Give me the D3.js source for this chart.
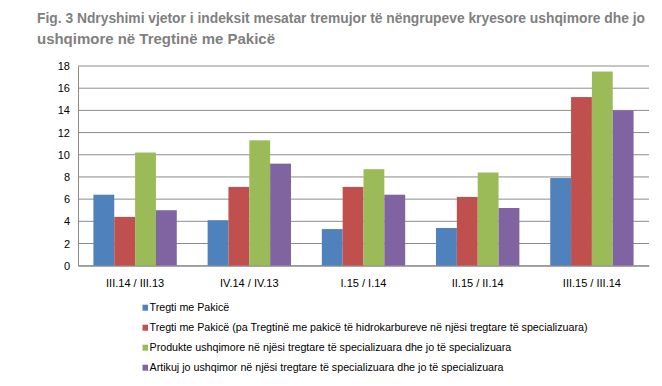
<!DOCTYPE html>
<html>
<head>
<meta charset="utf-8">
<script src="https://cdn.jsdelivr.net/npm/d3@7"></script>
<style>
  body { margin: 0; background: #fff; }
  svg { font-family: "Liberation Sans", Arial, sans-serif; }
</style>
</head>
<body>
<div id="chart"></div>
<script>
// te dhenat
var categories = ["III.14 / III.13", "IV.14 / IV.13", "I.15 / I.14", "II.15 / II.14", "III.15 / III.14"];
var seriesNames = [
    "Tregti me Pakicë",
    "Tregti me Pakicë (pa Tregtinë me pakicë të hidrokarbureve në njësi tregtare të specializuara)",
    "Produkte ushqimore në njësi tregtare të specializuara dhe jo të specializuara",
    "Artikuj jo ushqimor në njësi tregtare të specializuara dhe jo të specializuara"
];
var tregti = [6.4, 4.1, 3.3, 3.4, 7.9];
var tregtiPaHidro = [4.4, 7.1, 7.1, 6.2, 15.2];
var ushqimore = [10.2, 11.3, 8.7, 8.4, 17.5];
var joUshqimore = [5.0, 9.2, 6.4, 5.2, 14.0];
var yTicks = [0, 2, 4, 6, 8, 10, 12, 14, 16, 18];

var colors = ["#4F81BD", "#C0504D", "#9BBB59", "#8064A2"];
var allSeries = [tregti, tregtiPaHidro, ushqimore, joUshqimore];

var width = 662, height = 386;
var margin = {top: 66, right: 13, bottom: 120, left: 78};
var innerW = width - margin.left - margin.right,
    innerH = 265.7 - margin.top;

var svg = d3.select("#chart")
    .append("svg")
        .attr("width", width)
        .attr("height", height);

// titulli
var title = svg.append("g").attr("fill", "#808080").attr("font-weight", "bold").attr("font-size", 14);
title.append("text")
    .attr("x", 37).attr("y", 23)
    .attr("textLength", 608).attr("lengthAdjust", "spacingAndGlyphs")
    .text("Fig. 3  Ndryshimi  vjetor i indeksit  mesatar  tremujor  të nëngrupeve kryesore ushqimore dhe jo");
title.append("text")
    .attr("x", 37).attr("y", 44)
    .attr("textLength", 238).attr("lengthAdjust", "spacingAndGlyphs")
    .text("ushqimore në Tregtinë me Pakicë");

var g = svg.append("g")
    .attr("transform", `translate(${margin.left}, ${margin.top})`);

var x0 = d3.scaleBand()
    .domain(categories)
    .range([0, innerW])
    .paddingInner(0.27)
    .paddingOuter(0.135);

var x1 = d3.scaleBand()
    .domain(d3.range(4))
    .range([0, x0.bandwidth()]);

var y = d3.scaleLinear()
    .domain([0, 18])
    .range([innerH, 0]);

// vijat e rrjetit
g.selectAll(".grid")
    .data(yTicks)
    .enter()
    .append("line")
    .attr("x1", 0).attr("x2", innerW)
    .attr("y1", d => y(d)).attr("y2", d => y(d))
    .attr("stroke", "#8c8c8c")
    .attr("stroke-width", 1);

// boshti y
var yAxis = g.append("g")
    .call(d3.axisLeft(y).tickValues(yTicks).tickSize(0).tickPadding(8));
yAxis.select(".domain").attr("stroke", "#8c8c8c");
yAxis.selectAll("text").attr("font-size", 11).attr("fill", "#000")
    .attr("font-family", "Liberation Sans, Arial, sans-serif");

// shtyllat
var groups = g.selectAll(".group")
    .data(categories)
    .enter()
    .append("g")
    .attr("transform", d => `translate(${x0(d)}, 0)`);

groups.selectAll("rect")
    .data((d, i) => allSeries.map((s, k) => ({k: k, v: s[i]})))
    .enter()
    .append("rect")
    .attr("x", d => x1(d.k))
    .attr("width", x1.bandwidth())
    .attr("y", d => y(d.v))
    .attr("height", d => y(0) - y(d.v))
    .attr("fill", d => colors[d.k]);

// boshti x
var xAxis = g.append("g")
    .attr("transform", `translate(0, ${innerH})`)
    .call(d3.axisBottom(x0).tickSize(0).tickPadding(14));
xAxis.select(".domain").attr("stroke", "#8c8c8c");
xAxis.selectAll("text").attr("font-size", 11).attr("fill", "#000")
    .attr("font-family", "Liberation Sans, Arial, sans-serif");

// legjenda
var legend = svg.append("g")
    .attr("transform", "translate(142.5, 307.7)");
var items = legend.selectAll(".item")
    .data(seriesNames)
    .enter()
    .append("g")
    .attr("transform", (d, i) => `translate(0, ${i * 20})`);
items.append("rect")
    .attr("x", 0).attr("y", -3)
    .attr("width", 5.5).attr("height", 6)
    .attr("fill", (d, i) => colors[i]);
items.append("text")
    .attr("x", 7).attr("y", 0)
    .attr("dy", "0.35em")
    .attr("font-size", 10.7)
    .attr("fill", "#000")
    .text(d => d);
</script>
</body>
</html>
